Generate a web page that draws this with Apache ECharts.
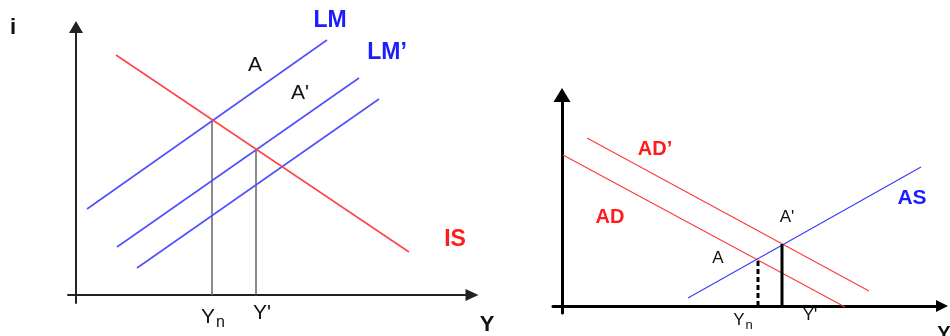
<!DOCTYPE html>
<html>
<head>
<meta charset="utf-8">
<script src="https://cdn.jsdelivr.net/npm/echarts@6/dist/echarts.min.js"></script>
<style>
  html, body { margin: 0; background: #fff; }
  #chart { width: 950px; height: 336px; }
</style>
</head>
<body>
<div id="chart"></div>
<script>
// left panel: IS-LM (x = Y, y = i)
const lmLine = [[2.75, 21.5], [62.75, 63.75]]
const lmPrimeLine = [[10.25, 12], [70.75, 54.25]]
const lmThirdLine = [[15.25, 6.75], [75.75, 49]]
const isLine = [[10, 60], [83.25, 10.75]]
const ynDrop = [[34, 0], [34, 43.5]]
const yPrimeDrop = [[45, 0], [45, 36.5]]
const leftTexts = ['i', 'LM', 'LM’', 'IS', 'A', "A'", 'Yn', "Y'", 'Y']
const leftTextAt = [[-15.75, 66.75], [63.5, 68.5], [77.75, 60.5], [94.75, 13.75], [44.75, 57.5], [56, 50.5], [34.25, -5.5], [46.5, -4.5], [102.75, -7.5]]

// right panel: AD-AS
const adLine = [[0.25, 37.75], [70.75, -0.25]]
const adPrimeLine = [[6.25, 42], [76.75, 3.75]]
const asLine = [[31.5, 2], [89.75, 34.75]]
const aDrop = [[49, 0], [49, 12]]
const aPrimeDrop = [[55, 0], [55, 15.5]]
const rightTexts = ['AD’', 'AD', 'AS', "A'", 'A', 'Yn', "Y'", 'Y']
const rightTextAt = [[23.25, 39.25], [12, 22.25], [87.5, 27], [56.25, 22.25], [39, 12], [45.25, -3.5], [62, -2.25], [95.5, -7]]

const BLUE = '#1c1cff'
const RED = '#ff1c1c'
const FONT = 'Liberation Sans, Arial, sans-serif'

const chart = echarts.init(document.getElementById('chart'))

function axisPair(idx, xr, yr, w, col, xs, ys) {
  const common = {
    type: 'value',
    gridIndex: idx,
    axisTick: { show: false },
    axisLabel: { show: false },
    splitLine: { show: false }
  }
  return {
    x: Object.assign({}, common, {
      min: xr[0], max: xr[1],
      axisLine: { onZero: true, symbol: ['none', 'triangle'], symbolSize: xs, lineStyle: { color: col, width: w } }
    }),
    y: Object.assign({}, common, {
      min: yr[0], max: yr[1],
      axisLine: { onZero: true, symbol: ['none', 'triangle'], symbolSize: ys, lineStyle: { color: col, width: w } }
    })
  }
}

const leftAx = axisPair(0, [-2, 99], [-2, 67], 2, '#222', [12, 13], [14, 12])
const rightAx = axisPair(1, [-2.25, 95], [-1.75, 52.75], 3, '#000', [12, 12], [17, 14])

function line(idx, data, color, width, type) {
  return {
    type: 'line', xAxisIndex: idx, yAxisIndex: idx, data: data,
    symbol: 'none', silent: true, animation: false,
    lineStyle: { color: color, width: width, type: type || 'solid' }
  }
}

function leftStyle(t) {
  if (t === 'i' || t === 'Y') return { color: '#111', fontWeight: 'bold', fontSize: 22 }
  if (t === 'LM' || t === 'LM’') return { color: BLUE, fontWeight: 'bold', fontSize: 23 }
  if (t === 'IS') return { color: RED, fontWeight: 'bold', fontSize: 23 }
  return { color: '#111', fontWeight: 'normal', fontSize: 21 }
}

function rightStyle(t) {
  if (t === 'AD’' || t === 'AD') return { color: RED, fontWeight: 'bold', fontSize: 20 }
  if (t === 'AS') return { color: BLUE, fontWeight: 'bold', fontSize: 21 }
  if (t === 'Y') return { color: '#111', fontWeight: 'bold', fontSize: 20 }
  return { color: '#111', fontWeight: 'normal', fontSize: 17 }
}

function texts(idx, names, pos, styleFn, big) {
  return {
    type: 'scatter', xAxisIndex: idx, yAxisIndex: idx,
    symbolSize: 0, silent: true, animation: false, clip: false,
    itemStyle: { opacity: 1 },
    data: names.map((n, i) => {
      const s = styleFn(n)
      return {
        value: pos[i],
        name: n,
        label: {
          show: true, position: 'inside',
          formatter: n === 'Yn' ? '{y|Y}{n|n}' : n,
          color: s.color, fontWeight: s.fontWeight, fontSize: s.fontSize, fontFamily: FONT,
          rich: {
            y: { fontSize: s.fontSize, fontFamily: FONT, color: s.color },
            n: { fontSize: Math.round(s.fontSize * 0.75), fontFamily: FONT, color: s.color, padding: [big ? 12 : 10, 0, 0, 1] }
          }
        }
      }
    })
  }
}

const option = {
  backgroundColor: '#fff',
  animation: false,
  grid: [
    { left: 68, right: 478, top: 27, bottom: 33 },
    { left: 553, right: 8, top: 95, bottom: 23 }
  ],
  xAxis: [leftAx.x, rightAx.x],
  yAxis: [leftAx.y, rightAx.y],
  series: [
    line(0, ynDrop, '#666', 1.5),
    line(0, yPrimeDrop, '#666', 1.5),
    line(0, lmLine, '#5050ff', 1.6),
    line(0, lmPrimeLine, '#5050ff', 1.6),
    line(0, lmThirdLine, '#5050ff', 1.6),
    line(0, isLine, '#ff4646', 1.6),
    texts(0, leftTexts, leftTextAt, leftStyle, true),
    line(1, adLine, '#ff3a3a', 1.1),
    line(1, adPrimeLine, '#ff3a3a', 1.1),
    line(1, asLine, '#3a3aff', 1.1),
    line(1, aDrop, '#000', 3, [5, 3]),
    line(1, aPrimeDrop, '#000', 3),
    texts(1, rightTexts, rightTextAt, rightStyle, false)
  ]
}

chart.setOption(option)
</script>
</body>
</html>
